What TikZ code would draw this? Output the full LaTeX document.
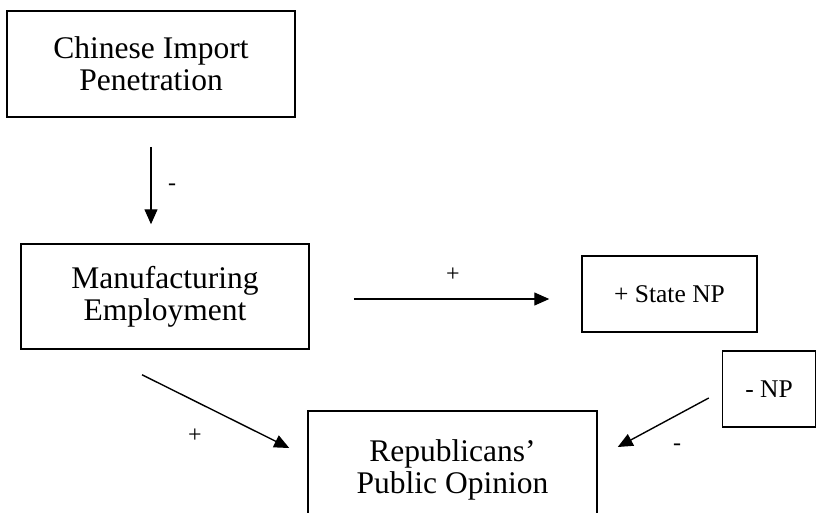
\documentclass[tikz,border=0pt]{standalone}
\usepackage{fontspec}
\setmainfont{Liberation Serif}
\usetikzlibrary{arrows.meta}
\tikzset{
  box/.style={draw, line width=1.5pt, inner sep=0pt, align=center,
    font=\fontsize{31.5}{32}\selectfont},
  smallbox/.style={draw, line width=1.5pt, inner sep=0pt, align=center,
    font=\fontsize{25.5}{28}\selectfont},
  arr/.style={line width=1.4pt, -{Triangle[length=15pt,width=13pt]}},
  lbl/.style={inner sep=0pt, font=\fontsize{24}{26}\selectfont}
}
\begin{document}
\begin{tikzpicture}[x=1pt,y=-1pt]
\useasboundingbox (0,0) rectangle (817,512);
\node[box, minimum width=288pt, minimum height=106pt] (b1) at (151,64) {Chinese Import\\Penetration};
\node[box, minimum width=288pt, minimum height=105pt] (b2) at (165,296.5) {Manufacturing\\Employment};
\node[smallbox, minimum width=175pt, minimum height=76pt] (b3) at (669.5,294) {+ State NP};
\node[smallbox, minimum width=93pt, minimum height=76pt] (b4) at (769,389) {- NP};
\node[box, minimum width=289pt, minimum height=118pt] (b5) at (452.5,470) {Republicans’\\Public Opinion};

\draw[arr, shorten <=29pt, shorten >=19pt] (b1.south) -- (b1.south |- b2.north);
\draw[arr, shorten <=44pt, shorten >=32pt] (b2.east |- 0,299) -- (b3.west |- 0,299);
\draw[arr] ([xshift=-13pt,yshift=-9pt]b4.west) -- ([xshift=20pt,yshift=23pt]b5.east);
\draw[arr] ([xshift=-23pt,yshift=-25pt]b2.south) -- ([xshift=-18pt,yshift=22pt]b5.west);

\node[lbl] (l1) at (172,187) {-};
\node[lbl] (l2) at (453,275) {+};
\node[lbl] (l3) at (677,447) {-};
\node[lbl] (l4) at (195,436) {+};
\end{tikzpicture}
\end{document}
